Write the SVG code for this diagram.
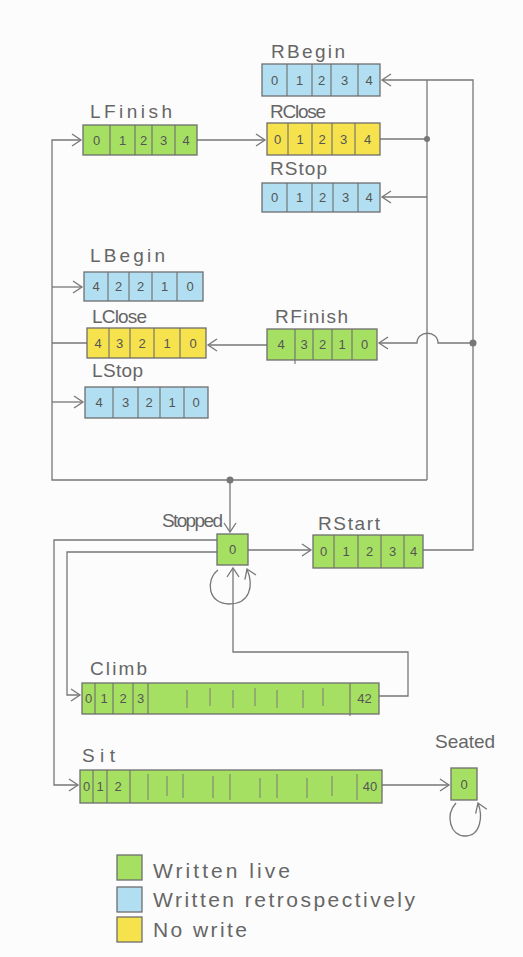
<svg xmlns="http://www.w3.org/2000/svg" width="523" height="957" viewBox="0 0 523 957">
<style>
.bg{fill:#fcfcfc}
.box{stroke:#6e6e6e;stroke-width:1.3}
.g{fill:#a6e063}
.b{fill:#b1def0}
.y{fill:#f6e24c}
.div{stroke:#6e6e6e;stroke-width:1.1}
.tick{stroke:#7a7a7a;stroke-width:1}
.lbl{font-family:"Liberation Sans","DejaVu Sans",sans-serif;font-size:19px;fill:#666}
.num{font-family:"Liberation Sans","DejaVu Sans",sans-serif;font-size:13px;fill:#555;text-anchor:middle}
.leg{font-family:"Liberation Sans","DejaVu Sans",sans-serif;font-size:21px;fill:#666}
.c{fill:none;stroke:#777;stroke-width:1.3}
.dot{fill:#777}
</style>
<defs>
<marker id="arr" markerWidth="12" markerHeight="14" refX="10" refY="7" orient="auto" markerUnits="userSpaceOnUse">
<path d="M1,1 L10,7 L1,13" fill="none" stroke="#777" stroke-width="1.3"/>
</marker>
</defs>
<rect class="bg" x="0" y="0" width="523" height="957"/>

<g id="connectors">
<path class="c" d="M197,140 H265" marker-end="url(#arr)"/>
<path class="c" d="M380,139 H427"/>
<path class="c" d="M427,80 V480"/>
<path class="c" d="M423,550 H473 V80 H382" marker-end="url(#arr)"/>
<path class="c" d="M427,197 H382" marker-end="url(#arr)"/>
<path class="c" d="M473,343 H438 C438,330 417,330 417,343 H379" marker-end="url(#arr)"/>
<path class="c" d="M267,345 H208" marker-end="url(#arr)"/>
<path class="c" d="M87,343 H52"/>
<path class="c" d="M427,480 H52 V140 H81" marker-end="url(#arr)"/>
<path class="c" d="M52,287 H82" marker-end="url(#arr)"/>
<path class="c" d="M52,402 H83" marker-end="url(#arr)"/>
<path class="c" d="M230,480 V532" marker-end="url(#arr)"/>
<path class="c" d="M248,550 H311" marker-end="url(#arr)"/>
<path class="c" d="M217,540 H54 V785 H78" marker-end="url(#arr)"/>
<path class="c" d="M217,552 H67 V695 H80" marker-end="url(#arr)"/>
<path class="c" d="M379,696 H408 V652 H233 V568" marker-end="url(#arr)"/>
<path class="c" d="M218,570 C205,580 208,604 229,604 C250,604 254,586 247,569" marker-end="url(#arr)"/>
<path class="c" d="M382,785 H449" marker-end="url(#arr)"/>
<path class="c" d="M456,803 C445,815 450,836 465,836 C481,836 483,816 478,803" marker-end="url(#arr)"/>
<circle class="dot" cx="427" cy="139" r="3"/>
<circle class="dot" cx="473" cy="343" r="3.5"/>
<circle class="dot" cx="230" cy="480" r="3.5"/>
</g>

<g id="RBegin">
<text class="lbl" x="271" y="58" textLength="74">RBegin</text>
<rect class="box b" x="262" y="64" width="118" height="32"/>
<path class="div" d="M287,64 V96 M312,64 V96 M331,64 V96 M358,64 V96"/>
<text class="num" x="274.5" y="85">0</text><text class="num" x="299.5" y="85">1</text><text class="num" x="321.5" y="85">2</text><text class="num" x="344.5" y="85">3</text><text class="num" x="369" y="85">4</text>
</g>

<g id="LFinish">
<text class="lbl" x="90" y="118" textLength="82">LFinish</text>
<rect class="box g" x="83" y="125" width="114" height="30"/>
<path class="div" d="M110,125 V155 M135,125 V155 M152,125 V155 M175,125 V155"/>
<text class="num" x="96.5" y="145">0</text><text class="num" x="122.5" y="145">1</text><text class="num" x="143.5" y="145">2</text><text class="num" x="163.5" y="145">3</text><text class="num" x="186" y="145">4</text>
</g>

<g id="RClose">
<text class="lbl" x="270" y="118" textLength="56">RClose</text>
<rect class="box y" x="267" y="123" width="113" height="32"/>
<path class="div" d="M288,123 V155 M312,123 V155 M332,123 V155 M355,123 V155"/>
<text class="num" x="277.5" y="144">0</text><text class="num" x="300" y="144">1</text><text class="num" x="322" y="144">2</text><text class="num" x="343.5" y="144">3</text><text class="num" x="367.5" y="144">4</text>
</g>

<g id="RStop">
<text class="lbl" x="270" y="175" textLength="57">RStop</text>
<rect class="box b" x="262" y="183" width="118" height="29"/>
<path class="div" d="M287,183 V212 M312,183 V212 M333,183 V212 M358,183 V212"/>
<text class="num" x="274.5" y="202">0</text><text class="num" x="299.5" y="202">1</text><text class="num" x="322.5" y="202">2</text><text class="num" x="345.5" y="202">3</text><text class="num" x="369" y="202">4</text>
</g>

<g id="LBegin">
<text class="lbl" x="90" y="262" textLength="75">LBegin</text>
<rect class="box b" x="84" y="272" width="119" height="29"/>
<path class="div" d="M108,272 V301 M129,272 V301 M152,272 V301 M177,272 V301"/>
<text class="num" x="96" y="291">4</text><text class="num" x="118.5" y="291">2</text><text class="num" x="140.5" y="291">2</text><text class="num" x="164.5" y="291">1</text><text class="num" x="190" y="291">0</text>
</g>

<g id="LClose">
<text class="lbl" x="92" y="323" textLength="55">LClose</text>
<rect class="box y" x="87" y="328" width="119" height="30"/>
<path class="div" d="M109,328 V358 M130,328 V358 M154,328 V358 M180,328 V358"/>
<text class="num" x="98" y="348">4</text><text class="num" x="119.5" y="348">3</text><text class="num" x="142" y="348">2</text><text class="num" x="167" y="348">1</text><text class="num" x="193" y="348">0</text>
</g>

<g id="LStop">
<text class="lbl" x="92" y="377" textLength="51">LStop</text>
<rect class="box b" x="85" y="387" width="123" height="31"/>
<path class="div" d="M113,387 V418 M138,387 V418 M160,387 V418 M184,387 V418"/>
<text class="num" x="99" y="407">4</text><text class="num" x="125.5" y="407">3</text><text class="num" x="149" y="407">2</text><text class="num" x="172" y="407">1</text><text class="num" x="196" y="407">0</text>
</g>

<g id="RFinish">
<text class="lbl" x="275" y="323" textLength="73">RFinish</text>
<rect class="box g" x="267" y="329" width="110" height="31"/>
<path class="div" d="M295,329 V364 M313,329 V360 M332,329 V360 M352,329 V360"/>
<text class="num" x="281" y="349">4</text><text class="num" x="304" y="349">3</text><text class="num" x="322.5" y="349">2</text><text class="num" x="342" y="349">1</text><text class="num" x="364.5" y="349">0</text>
</g>

<g id="Stopped">
<text class="lbl" x="162" y="527" textLength="61">Stopped</text>
<rect class="box g" x="217" y="534" width="31" height="31"/>
<text class="num" x="232.5" y="554">0</text>
</g>

<g id="RStart">
<text class="lbl" x="318" y="530" textLength="62">RStart</text>
<rect class="box g" x="313" y="535" width="110" height="33"/>
<path class="div" d="M334,535 V568 M358,535 V568 M381,535 V568 M404,535 V568"/>
<text class="num" x="323.5" y="556">0</text><text class="num" x="346" y="556">1</text><text class="num" x="369.5" y="556">2</text><text class="num" x="392.5" y="556">3</text><text class="num" x="413.5" y="556">4</text>
</g>

<g id="Climb">
<text class="lbl" x="90" y="675" textLength="57">Climb</text>
<rect class="box g" x="82" y="683" width="297" height="31"/>
<path class="div" d="M95,683 V714 M113,683 V714 M133,683 V714 M148,683 V714 M350,683 V716"/>
<path class="tick" d="M187,690 V708 M210,688 V706 M233,690 V708 M255,688 V706 M277,690 V708 M303,690 V708 M323,688 V706"/>
<text class="num" x="88.5" y="703">0</text><text class="num" x="104" y="703">1</text><text class="num" x="123" y="703">2</text><text class="num" x="140.5" y="703">3</text><text class="num" x="364.5" y="703">42</text>
</g>

<g id="Sit">
<text class="lbl" x="82" y="762" textLength="33">Sit</text>
<rect class="box g" x="80" y="770" width="302" height="33"/>
<path class="div" d="M93,770 V803 M107,770 V803 M130,770 V803"/>
<path class="tick" d="M148,774 V800 M167,776 V796 M183,774 V798 M213,776 V798 M230,774 V800 M260,778 V798 M277,774 V798 M307,778 V798 M332,776 V796 M357,774 V800"/>
<text class="num" x="86.5" y="791">0</text><text class="num" x="100" y="791">1</text><text class="num" x="118" y="791">2</text><text class="num" x="370" y="791">40</text>
</g>

<g id="Seated">
<text class="lbl" x="435" y="748" textLength="60">Seated</text>
<rect class="box g" x="451" y="768" width="26" height="32"/>
<text class="num" x="464" y="789">0</text>
</g>

<g id="legend">
<rect class="box g" x="117" y="855" width="25" height="25"/>
<rect class="box b" x="117" y="887" width="25" height="25"/>
<rect class="box y" x="117" y="917" width="25" height="25"/>
<text class="leg" x="153" y="878" textLength="137">Written live</text>
<text class="leg" x="153" y="907" textLength="262">Written retrospectively</text>
<text class="leg" x="153" y="937" textLength="94">No write</text>
</g>
</svg>
